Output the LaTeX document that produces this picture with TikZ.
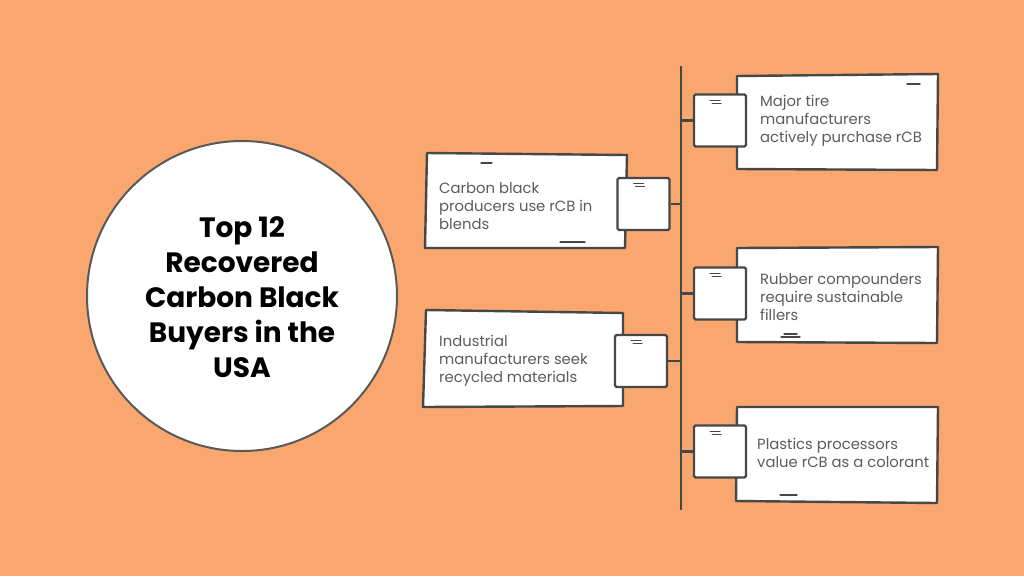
\documentclass[tikz,border=0pt]{standalone}
\usepackage{fontspec}
\setmainfont{Poppins}
\definecolor{bg}{HTML}{FAA66F}
\definecolor{ink}{HTML}{474747}
\definecolor{txt}{HTML}{5C5C5C}
\begin{document}
\begin{tikzpicture}[x=1pt,y=-1pt,
  hand/.style={draw=ink,line width=2.4pt,fill=white,line join=round},
  tab/.style={draw=ink,line width=2.4pt,fill=white,rounded corners=1.5pt,minimum width=52pt,minimum height=52pt,inner sep=0pt},
  lbl/.style={anchor=west,align=left,text=txt,font=\fontsize{14.8}{18}\selectfont,inner sep=0pt},
  spine/.style={draw=ink,line width=2.6pt},
  dashmark/.style={draw=ink,line width=1.3pt,line cap=round}
]
\fill[bg] (0,0) rectangle (1024,576);
\useasboundingbox (0,0) rectangle (1024,576);

% title circle
\node[circle,draw=ink!90,line width=2pt,fill=white,minimum size=310pt,inner sep=0pt] (c) at (242,296) {};
\node[align=center,font=\bfseries\fontsize{28}{35}\selectfont,text=black] (title) at (242,297)
  {Top 12\\Recovered\\Carbon Black\\Buyers in the\\USA};

% spine
\coordinate (top) at (681,66);
\coordinate (bot) at (681,510);
\draw[spine] (top) -- (bot);

% main boxes
\draw[hand] (737,76) -- (938,74) -- (937,170) -- (737,169) -- cycle;
\draw[hand] (427,153) -- (627,155) -- (625,248) -- (425,248) -- cycle;
\draw[hand] (737,248) -- (938,247) -- (937,343) -- (737,342) -- cycle;
\draw[hand] (426,310) -- (623,313) -- (623,406) -- (423,407) -- cycle;
\draw[hand] (737,407) -- (938,407) -- (937,503) -- (736,501) -- cycle;

% decorative dashes on boxes
\draw[dashmark] (907,84) -- (920,84);
\draw[dashmark] (481,163) -- (492,163);
\draw[dashmark] (560,242) -- (585,242);
\draw[dashmark] (781,337) -- (800,337);
\draw[dashmark] (784,334) -- (797,334);
\draw[dashmark] (780,495) -- (797,495);

% tabs
\node[tab] (t1) at (720,120.5) {};
\node[tab] (l1) at (643.5,204) {};
\node[tab] (t2) at (720,293.5) {};
\node[tab] (l2) at (641,361) {};
\node[tab] (t3) at (720,451.5) {};

% tab marks
\foreach \n in {t1,t2,t3,l1,l2}{
  \draw[dashmark,line width=1pt] ([xshift=-10pt,yshift=-7pt]\n.north) -- ([xshift=0pt,yshift=-7pt]\n.north);
  \draw[dashmark,line width=1pt] ([xshift=-8pt,yshift=-10pt]\n.north) -- ([xshift=1pt,yshift=-10pt]\n.north);
}

% connectors
\draw[spine] (t1.west) -- (t1.west -| top);
\draw[spine] (t2.west) -- (t2.west -| top);
\draw[spine] (t3.west) -- (t3.west -| top);
\draw[spine] (l1.east) -- (l1.east -| top);
\draw[spine] (l2.east) -- (l2.east -| top);

% labels
\node[lbl] (a1) at (760,121) {Major tire\\manufacturers\\actively purchase rCB};
\node[lbl] (b1) at (439,206) {Carbon black\\producers use rCB in\\blends};
\node[lbl] (a2) at (760,297) {Rubber compounders\\require sustainable\\fillers};
\node[lbl] (b2) at (439,361) {Industrial\\manufacturers seek\\recycled materials};
\node[lbl] (a3) at (757,453) {Plastics processors\\value rCB as a colorant};
\end{tikzpicture}
\end{document}
